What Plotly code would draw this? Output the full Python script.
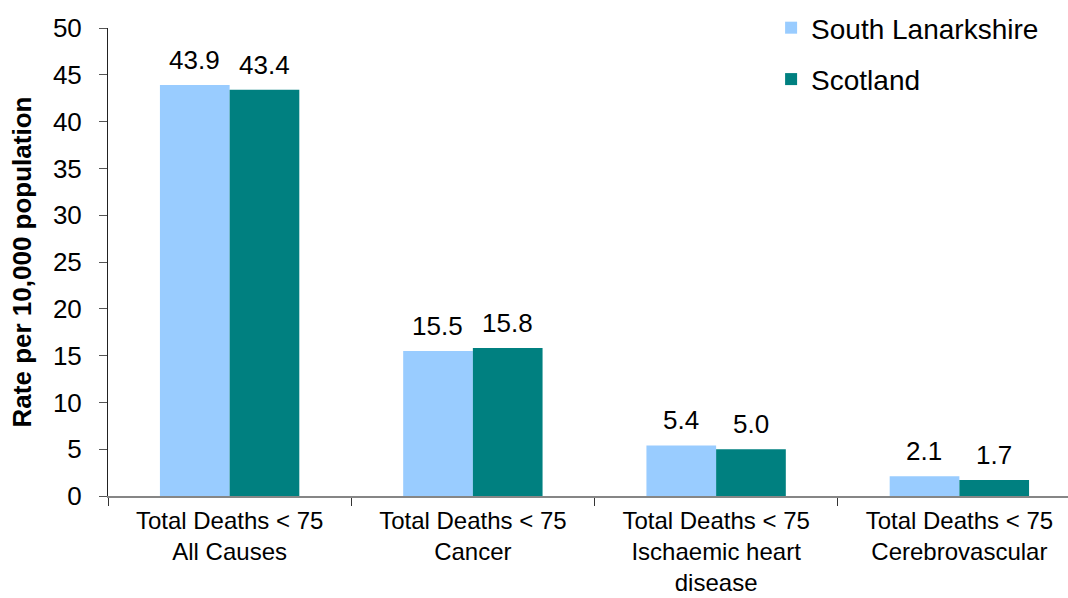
import plotly.graph_objects as go

# Premature mortality rates (per 10,000 population), under-75s
categories = [
    "Total Deaths &lt; 75<br>All Causes",
    "Total Deaths &lt; 75<br>Cancer",
    "Total Deaths &lt; 75<br>Ischaemic heart<br>disease",
    "Total Deaths &lt; 75<br>Cerebrovascular",
]
south_lanarkshire = [43.9, 15.5, 5.4, 2.1]
scotland = [43.4, 15.8, 5.0, 1.7]
y_ticks = [0, 5, 10, 15, 20, 25, 30, 35, 40, 45, 50]

FONT = "Liberation Sans, Arial, sans-serif"
SL_COLOR = "#99CCFF"
SCOT_COLOR = "#008080"

fig = go.Figure()
fig.add_trace(go.Bar(
    x=categories, y=south_lanarkshire, name="South Lanarkshire",
    marker=dict(color=SL_COLOR, line=dict(width=0)),
    legendgroup="a",
))
fig.add_trace(go.Bar(
    x=categories, y=scotland, name="Scotland",
    marker=dict(color=SCOT_COLOR, line=dict(width=0)),
    legendgroup="b",
))

# value labels above each bar
annotations = []
for series, shift in ((south_lanarkshire, -35), (scotland, 35)):
    for cat, val in zip(categories, series):
        annotations.append(dict(
            x=cat, y=val, xref="x", yref="y", text=f"{val:.1f}",
            showarrow=False, xshift=shift, yshift=25, yanchor="middle",
            font=dict(family=FONT, size=26, color="#000000"),
        ))

fig.update_layout(
    width=1068, height=598,
    margin=dict(l=108, r=0, t=28, b=102, autoexpand=False),
    paper_bgcolor="white", plot_bgcolor="white",
    barmode="group", bargap=0.427, bargroupgap=0,
    font=dict(family=FONT, size=26, color="#000000"),
    annotations=annotations,
    showlegend=True,
    legend=dict(
        x=0.722, xref="container", xanchor="left",
        y=0.995, yref="container", yanchor="top",
        font=dict(family=FONT, size=28, color="#000000"),
        tracegroupgap=12, traceorder="grouped",
        bgcolor="rgba(0,0,0,0)",
    ),
    xaxis=dict(
        range=[-0.5, 3.4466],
        showline=True, linecolor="#868686", linewidth=2,
        ticks="outside", tickson="boundaries", ticklen=8, tickcolor="#333333",
        showgrid=False, zeroline=False, tickangle=0,
        ticklabelstandoff=2,
        tickfont=dict(family=FONT, size=24, color="#000000"),
    ),
    yaxis=dict(
        range=[0, 50], tickvals=y_ticks,
        showline=True, linecolor="#222222", linewidth=1,
        ticks="outside", ticklen=8, tickcolor="#555555",
        showgrid=False, zeroline=False,
        ticklabelstandoff=12,
        tickfont=dict(family=FONT, size=26, color="#000000"),
        title=dict(text="<b>Rate per 10,000 population</b>", standoff=13,
                   font=dict(family=FONT, size=26, color="#000000")),
    ),
)

fig.write_html("out.html")
